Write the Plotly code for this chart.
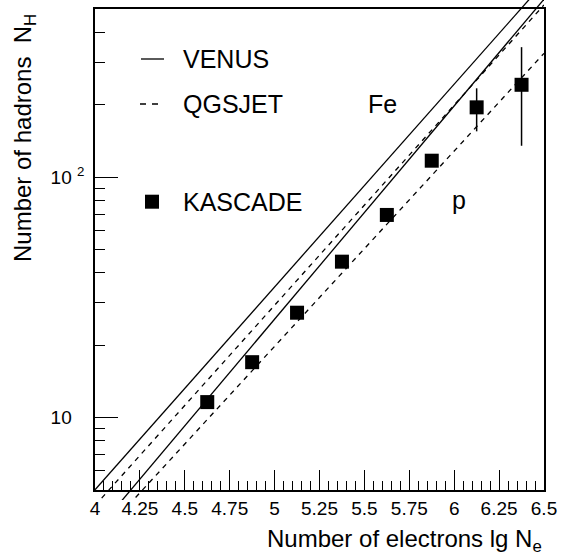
import math
import plotly.graph_objects as go

# ---------------- data ----------------
lg_ne = [4.625, 4.875, 5.125, 5.375, 5.625, 5.875, 6.125, 6.375]
n_hadrons = [11.6, 17.0, 27.3, 44.5, 69.6, 117.0, 195.0, 242.0]
err_plus = [0, 0, 0, 0, 0, 0, 39.0, 105.0]
err_minus = [0, 0, 0, 0, 0, 0, 40.0, 107.0]

# model predictions (values read at the axis ends lg Ne = 4.0 and 6.5)
model_x = [4.0, 6.5]
venus_fe = [5.01, 643.0]
qgsjet_fe = [4.31, 520.0]
venus_p = [3.33, 549.0]
qgsjet_p = [3.05, 327.0]

x_tickvals = [4.0, 4.25, 4.5, 4.75, 5.0, 5.25, 5.5, 5.75, 6.0, 6.25, 6.5]
x_ticktext = ["4", "4.25", "4.5", "4.75", "5", "5.25", "5.5", "5.75", "6", "6.25", "6.5"]
y_tickvals = [10, 100]
y_ticktext = ["10<span style='color:rgba(0,0,0,0)'> <sup>2</sup></span>", "10 <sup>2</sup>"]
y_minor = [6, 7, 8, 9, 20, 30, 40, 50, 60, 70, 80, 90, 200, 300, 400]
y_range = [5, 500]

FONT = "Liberation Sans, Arial, Helvetica, sans-serif"

# ---------------- geometry (pixels) ----------------
W, H = 566, 556
L, R = 95, 544          # frame left / right
FT, FB = 9, 490         # frame top / bottom
AT, AB = 0, 500         # drawing area for the model curves (they overrun the frame, as in the original)

ylo, yhi = math.log10(y_range[0]), math.log10(y_range[1])
dec = (FB - FT) / (yhi - ylo)
y2_range = [ylo - (AB - FB) / dec, yhi + (FT - AT) / dec]

def px(x):
    return (x - L) / (R - L)
def py(y):
    return (AB - y) / (AB - AT)

fig = go.Figure()

fig.add_trace(go.Scatter(
    x=lg_ne, y=n_hadrons, mode="markers", xaxis="x", yaxis="y",
    marker=dict(symbol="square", size=14, color="black"),
    error_y=dict(type="data", symmetric=False, array=err_plus, arrayminus=err_minus,
                 color="black", thickness=1.5, width=0),
    showlegend=False))

for ys, dash in [(venus_fe, "solid"), (qgsjet_fe, "5px,5px"), (venus_p, "solid"), (qgsjet_p, "5px,5px")]:
    fig.add_trace(go.Scatter(x=model_x, y=ys, mode="lines", xaxis="x", yaxis="y2",
                             line=dict(color="black", width=1.3, dash=dash),
                             showlegend=False, hoverinfo="skip"))

shapes = [
    dict(type="line", xref="paper", yref="paper", x0=px(141), x1=px(164), y0=py(59), y1=py(59),
         line=dict(color="black", width=1.3)),
    dict(type="line", xref="paper", yref="paper", x0=px(140), x1=px(164), y0=py(104), y1=py(104),
         line=dict(color="black", width=1.3, dash="6px,6px")),
    dict(type="rect", xref="paper", yref="paper", x0=px(145), x1=px(159), y0=py(208.7), y1=py(194.7),
         line=dict(color="black", width=0), fillcolor="black"),
]

def ann(text, x, y, xanchor="left", size=25, **kw):
    return dict(text=text, x=x, y=y, xref="paper", yref="paper", xanchor=xanchor,
                yanchor=kw.pop("yanchor", "middle"), showarrow=False,
                font=dict(family=FONT, size=size, color="black"), **kw)

annotations = [
    ann("VENUS", px(180.6), py(59)),
    ann("QGSJET", px(180.6), py(104)),
    ann("KASCADE", px(180.6), py(201.7)),
    ann("Fe", px(366), py(104)),
    ann("p", px(450), py(200)),
    ann("Number of electrons lg N<sub>e</sub>", 1.0, py(540), xanchor="right", size=24),
    ann("Number of hadrons  N<sub>H</sub>", px(24), py(12), xanchor="center", yanchor="top",
        textangle=-90, size=24),
]

fig.update_layout(
    width=W, height=H,
    margin=dict(l=L, r=W - R, t=AT, b=H - AB),
    paper_bgcolor="white", plot_bgcolor="rgba(0,0,0,0)",
    font=dict(family=FONT, color="black"),
    shapes=shapes, annotations=annotations,
    xaxis=dict(range=[4, 6.5], tickvals=x_tickvals, ticktext=x_ticktext, anchor="y",
               ticks="inside", ticklen=20, tickwidth=1.2, tickcolor="black",
               minor=dict(dtick=0.05, tick0=4, ticks="inside", ticklen=9, tickwidth=1, tickcolor="black"),
               showgrid=False, zeroline=False, showline=True, mirror=True,
               linecolor="black", linewidth=1.5, tickfont=dict(size=19, family=FONT)),
    yaxis=dict(type="log", range=[ylo, yhi], tickvals=y_tickvals, ticktext=y_ticktext,
               domain=[py(FB), py(FT)], anchor="x",
               ticks="inside", ticklen=23, tickwidth=1.2, tickcolor="black",
               minor=dict(tickvals=y_minor, ticks="inside", ticklen=10, tickwidth=1, tickcolor="black"),
               showgrid=False, zeroline=False, showline=True, mirror=True,
               linecolor="black", linewidth=1.5, tickfont=dict(size=19, family=FONT),
               ticklabelstandoff=5),
    yaxis2=dict(type="log", range=y2_range, domain=[0, 1], anchor="x", visible=False,
                showgrid=False, zeroline=False),
)

fig.write_html("out.html")
